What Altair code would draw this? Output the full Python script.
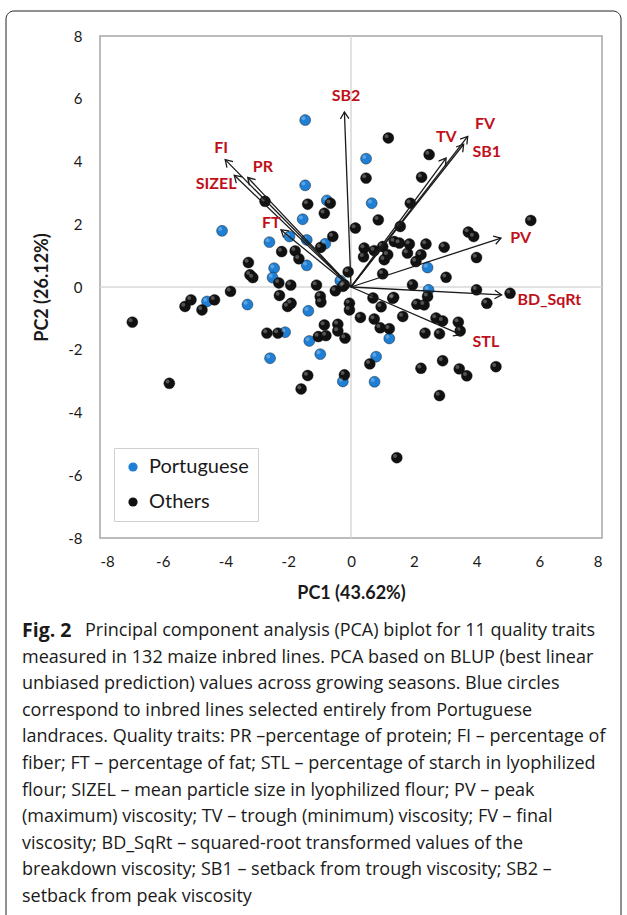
import altair as alt
import pandas as pd
import numpy as np

# ---------------- data ----------------
por_x = [-1.46, -1.46, -0.77, -1.54, -4.11, -1.96, -2.60, -1.41, -0.82, -2.45, -1.41, -2.50,
         0.48, 0.66, 2.44, 2.47, -0.34, 1.22, 0.80, 0.75, -0.26, -3.30, -4.59, -1.36,
         -2.10, -1.33, -0.98, -2.58]
por_y = [5.32, 3.24, 2.76, 2.16, 1.79, 1.61, 1.43, 1.50, 1.38, 0.60, 0.69, 0.30,
         4.09, 2.67, 0.62, -0.09, 0.20, -1.64, -2.22, -3.02, -3.01, -0.56, -0.46, -0.76,
         -1.44, -1.72, -2.14, -2.27]

oth_x = [-1.38, -0.66, -0.85, -2.74, -0.58, -0.97, -2.21, -1.78, -1.66, -3.27, -3.22, -3.13,
         -2.30, -1.92, -1.10, -0.09, -0.21, -3.84,
         0.14, 0.48, 0.87, 0.42, 0.40, 0.74, 1.19, 2.49, 2.25, 1.89, 1.57, 5.73, 3.74, 3.91,
         1.01, 1.38, 1.54, 1.86, 2.39, 2.97, 1.06, 1.17, 1.80, 2.23, 2.07, 4.00, 1.01, 3.03,
         1.96, 4.00, 5.07,
         4.33, 1.36, 2.44, 2.10, 2.33, 0.96, 0.70, 1.65, 0.74, 0.93, 1.22, 2.71, 2.92, 3.42,
         3.48, 2.36, 2.82, 0.60, 2.23, 2.92, 3.45, 3.69, 4.62, 2.82, 1.46, 1.33, 0.30, -0.05,
         -0.05,
         -6.97, -5.79, -5.29, -5.10, -4.75, -4.35, -2.28, -2.02, -1.91, -0.98, -0.96, -0.50,
         -0.26, -2.68, -2.33, -0.85, -0.42, -0.42, -1.04, -0.80, -0.19, -1.38, -1.59, -0.21]
oth_y = [2.64, 2.67, 2.35, 2.73, 1.61, 1.26, 1.13, 1.15, 0.90, 0.78, 0.39, 0.30,
         0.13, 0.06, 0.06, 0.48, 0.07, -0.14,
         1.88, 3.47, 2.14, 1.24, 0.96, 1.16, 4.75, 4.22, 3.50, 2.67, 1.93, 2.12, 1.75, 1.61,
         1.29, 1.45, 1.40, 1.37, 1.37, 1.27, 0.87, 1.03, 1.08, 1.03, 0.81, 0.94, 0.42, 0.31,
         0.07, -0.09, -0.20,
         -0.52, -0.33, -0.30, -0.55, -0.57, -0.63, -0.35, -0.94, -1.02, -1.30, -1.33, -0.99,
         -1.08, -1.12, -1.40, -1.47, -1.49, -2.45, -2.59, -2.35, -2.61, -2.83, -2.54, -3.46,
         -5.44, -0.36, -0.97, -0.52, -0.73,
         -1.12, -3.07, -0.62, -0.41, -0.73, -0.41, -0.27, -0.62, -0.52, -0.30, -0.48, -0.12,
         0.02, -1.47, -1.47, -1.21, -1.19, -1.40, -1.58, -1.55, -1.63, -2.82, -3.25, -2.80]

groups = ["Portuguese", "Others"]

traits = ["SB2", "FI", "PR", "SIZEL", "FT", "TV", "FV", "SB1", "PV", "BD_SqRt", "STL"]
load_x = [-0.21, -4.01, -3.29, -3.72, -2.23, 3.03, 3.72, 3.59, 4.78, 4.80, 3.50]
load_y = [5.58, 4.06, 3.49, 3.56, 1.82, 4.11, 4.80, 4.55, 1.56, -0.25, -1.52]
label_x = [-0.16, -4.14, -2.81, -4.30, -2.54, 3.04, 4.27, 4.33, 5.41, 6.32, 4.30]
label_y = [6.08, 4.43, 3.84, 3.28, 2.04, 4.77, 5.19, 4.30, 1.56, -0.43, -1.74]

ticks = list(range(-8, 9, 2))
x_title = "PC1 (43.62%)"
y_title = "PC2 (26.12%)"

caption_bold = "Fig. 2"
caption_first = "Principal component analysis (PCA) biplot for 11 quality traits"
caption_rest = [
    "measured in 132 maize inbred lines. PCA based on BLUP (best linear",
    "unbiased prediction) values across growing seasons. Blue circles",
    "correspond to inbred lines selected entirely from Portuguese",
    "landraces. Quality traits: PR \u2013percentage of protein; FI \u2013 percentage of",
    "fiber; FT \u2013 percentage of fat; STL \u2013 percentage of starch in lyophilized",
    "flour; SIZEL \u2013 mean particle size in lyophilized flour; PV \u2013 peak",
    "(maximum) viscosity; TV \u2013 trough (minimum) viscosity; FV \u2013 final",
    "viscosity; BD_SqRt \u2013 squared-root transformed values of the",
    "breakdown viscosity; SB1 \u2013 setback from trough viscosity; SB2 \u2013",
    "setback from peak viscosity",
]

# ---------------- tables ----------------
pts = pd.DataFrame({
    "x": por_x + oth_x,
    "y": por_y + oth_y,
    "group": [groups[0]] * len(por_x) + [groups[1]] * len(oth_x),
})
load = pd.DataFrame({"trait": traits, "x": load_x, "y": load_y,
                     "lx": label_x, "ly": label_y})
load["x0"] = 0.0
load["y0"] = 0.0
load["ang"] = (np.degrees(np.arctan2(-load["y"], load["x"])) + 360) % 360

W, H = 502, 502
FONT = "Lato"
xs = alt.Scale(domain=[-8, 8], nice=False, zero=False)
ys = alt.Scale(domain=[-8, 8], nice=False, zero=False)

X = alt.X("x:Q", scale=xs, axis=alt.Axis(values=ticks, title=x_title, labelPadding=16,
                                         titlePadding=15, labelExpr="'' + datum.value"))
Y = alt.Y("y:Q", scale=ys, axis=alt.Axis(values=ticks, title=y_title, labelPadding=18,
                                         titlePadding=16, labelExpr="'' + datum.value"))

one = pd.DataFrame({"x": [0.0], "y": [0.0]})

zero_v = alt.Chart(one).mark_rule(color="#d9d9d9", strokeWidth=1.5).encode(x=X)
zero_h = alt.Chart(one).mark_rule(color="#d9d9d9", strokeWidth=1.5).encode(y=Y)

dots = alt.Chart(pts).mark_circle(size=120, opacity=1, stroke="#0a0a0a",
                                  strokeWidth=0.4).encode(
    x=X, y=Y,
    color=alt.Color("group:N",
                    scale=alt.Scale(domain=groups, range=["#1f7fd4", "#111111"]),
                    legend=alt.Legend(title=None, orient="none", legendX=14, legendY=412,
                                      labelFont=FONT, labelFontSize=20, labelColor="#1a1a1a",
                                      symbolType="circle", symbolSize=85,
                                      symbolStrokeWidth=0, labelOffset=6,
                                      rowPadding=15, padding=9,
                                      strokeColor="#d0d0d0", fillColor="white")),
)
shine = alt.Chart(pts).mark_circle(size=16, color="white", opacity=0.28,
                                   xOffset=-1.8, yOffset=-1.8).encode(x=X, y=Y)

arrows = alt.Chart(load).mark_rule(color="#1a1a1a", strokeWidth=1.3).encode(
    x=alt.X("x0:Q", scale=xs), y=alt.Y("y0:Q", scale=ys), x2="x:Q", y2="y:Q")
heads = alt.Chart(load).mark_point(shape="M-1,-0.62L0,0L-1,0.62", filled=False,
                                   stroke="#1a1a1a", strokeWidth=1.3, size=190,
                                   opacity=1).encode(
    x=X, y=Y, angle=alt.Angle("ang:Q", scale=None))
labels = alt.Chart(load).mark_text(font=FONT, fontSize=16, fontWeight="bold",
                                   color="#c0101a").encode(
    x=alt.X("lx:Q", scale=xs), y=alt.Y("ly:Q", scale=ys), text="trait:N")

frame = alt.Chart(one).mark_rect(filled=False, stroke="#222222", strokeWidth=1,
                                 cornerRadius=8).encode(
    x=alt.value(-94), x2=alt.value(521), y=alt.value(-25), y2=alt.value(990))

CAP_FONT = "Open Sans"
CAP_SIZE = 18
LINE_H = 26.6
cap_y0 = 595
cap_layers = [
    alt.Chart(one).mark_text(text=caption_bold, font=CAP_FONT, fontSize=19.5,
                             fontWeight="bold", align="left", baseline="middle",
                             color="#1a1a1a").encode(x=alt.value(-78), y=alt.value(cap_y0)),
    alt.Chart(one).mark_text(text=caption_first, font=CAP_FONT, fontSize=CAP_SIZE,
                             align="left", baseline="middle",
                             color="#1a1a1a").encode(x=alt.value(-15), y=alt.value(cap_y0)),
]
for i, line in enumerate(caption_rest):
    cap_layers.append(
        alt.Chart(one).mark_text(text=line, font=CAP_FONT, fontSize=CAP_SIZE,
                                 align="left", baseline="middle", color="#1a1a1a").encode(
            x=alt.value(-78), y=alt.value(cap_y0 + (i + 1) * LINE_H)))

chart = alt.layer(frame, zero_v, zero_h, dots, shine, arrows, heads, labels,
                  *cap_layers).properties(
    width=W, height=H, padding={"left": 5, "top": 10, "right": 2, "bottom": 0},
    background="white",
).configure_view(stroke="#a6a6a6", strokeWidth=1.5, fill="white").configure_axis(
    grid=False, domain=False, ticks=False, labelFont=FONT, labelFontSize=15,
    labelColor="#1a1a1a", titleFont=FONT, titleFontSize=18, titleFontWeight="bold",
    titleColor="#1a1a1a",
)

chart.save("out.html", embed_options={"renderer": "svg", "actions": False})
